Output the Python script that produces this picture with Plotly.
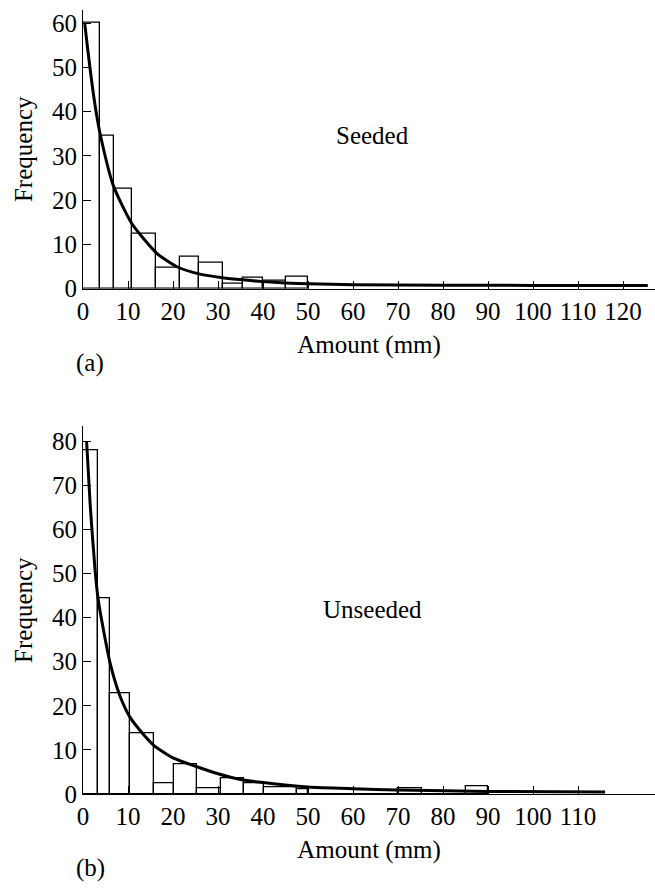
import plotly.graph_objects as go

# ---------------- data ----------------
# Panel (a): seeded clouds
seeded_edges = [0, 3.8, 6.8, 10.8, 16.3, 21.5, 25.8, 31.0, 35.5, 40.0, 45.0, 50.0]
seeded_counts = [60, 34.5, 22.5, 12.5, 4.7, 7.2, 5.9, 1.0, 2.4, 1.7, 2.6]
seeded_fit_x = [0.4, 1, 2, 3, 3.8, 6.7, 10.8, 16.4, 21, 26, 31, 35.5, 40, 45, 50, 60, 80, 100, 125.5]
seeded_fit_y = [59.8, 54.5, 46.3, 39.4, 35.0, 23.4, 14.8, 8.0, 4.9, 3.3, 2.5, 2.0, 1.6, 1.3, 1.1, 0.9, 0.8, 0.75, 0.7]

# Panel (b): unseeded clouds
unseeded_edges = [0, 3.4, 6.0, 10.4, 15.8, 20.3, 25.3, 30.6, 35.7, 40.2, 47.5, 50.0, 70.0, 75.4, 85.1, 90.0]
unseeded_counts = [78, 44.3, 22.9, 13.8, 2.5, 6.7, 1.4, 3.7, 2.4, 1.6, 1.0, 0, 1.3, 0, 1.7]
unseeded_fit_x = [0.8, 1.6, 2.7, 3.4, 6.0, 8.2, 10.4, 13.2, 15.8, 20, 25, 30, 35, 40, 50, 60, 70, 90, 116]
unseeded_fit_y = [80, 65.5, 50.6, 43.9, 29.8, 22.3, 17.5, 13.8, 11.0, 8.2, 6.3, 4.6, 3.3, 2.6, 1.6, 1.2, 0.9, 0.6, 0.45]

x_ticks_a = list(range(0, 121, 10))
x_ticks_b = list(range(0, 111, 10))
y_ticks_a = list(range(0, 61, 10))
y_ticks_b = list(range(0, 81, 10))

x_title = "Amount (mm)"
y_title = "Frequency"
label_a = "Seeded"
label_b = "Unseeded"
panel_a = "(a)"
panel_b = "(b)"

FONT = "Liberation Serif"


def bar_geom(edges):
    centers = [(edges[i] + edges[i + 1]) / 2 for i in range(len(edges) - 1)]
    widths = [edges[i + 1] - edges[i] for i in range(len(edges) - 1)]
    return centers, widths


fig = go.Figure()

ca, wa = bar_geom(seeded_edges)
fig.add_trace(go.Bar(x=ca, y=seeded_counts, width=wa, xaxis="x", yaxis="y",
                     marker=dict(color="rgba(0,0,0,0)", line=dict(color="black", width=1.3)),
                     showlegend=False, hoverinfo="skip"))
fig.add_trace(go.Scatter(x=seeded_fit_x, y=seeded_fit_y, xaxis="x", yaxis="y", mode="lines",
                         line=dict(color="black", width=3, shape="spline", smoothing=0.6),
                         showlegend=False, hoverinfo="skip"))

cb, wb = bar_geom(unseeded_edges)
fig.add_trace(go.Bar(x=cb, y=unseeded_counts, width=wb, xaxis="x2", yaxis="y2",
                     marker=dict(color="rgba(0,0,0,0)", line=dict(color="black", width=1.3)),
                     showlegend=False, hoverinfo="skip"))
fig.add_trace(go.Scatter(x=unseeded_fit_x, y=unseeded_fit_y, xaxis="x2", yaxis="y2", mode="lines",
                         line=dict(color="black", width=3, shape="spline", smoothing=0.6),
                         showlegend=False, hoverinfo="skip"))

common_axis = dict(showline=True, linecolor="black", linewidth=1.2, ticks="inside", ticklen=8,
                   tickwidth=1.2, tickcolor="black", showgrid=False, zeroline=False,
                   tickfont=dict(family=FONT, size=25, color="black"), fixedrange=True)

fig.update_layout(
    width=655, height=894,
    margin=dict(l=83, r=0, t=0, b=0),
    paper_bgcolor="white", plot_bgcolor="white",
    font=dict(family=FONT, size=25, color="black"),
    bargap=0,
    xaxis=dict(domain=[0, 1], range=[0, 127.1], anchor="y", tickvals=x_ticks_a,
               title=dict(text=x_title, font=dict(size=25), standoff=11), **common_axis),
    yaxis=dict(domain=[1 - 293.3 / 894, 1 - 10 / 894], range=[0, 63], anchor="x", tickvals=y_ticks_a,
               title=dict(text=y_title, font=dict(size=25), standoff=12), **common_axis),
    xaxis2=dict(domain=[0, 1], range=[0, 127.1], anchor="y2", tickvals=x_ticks_b,
                title=dict(text=x_title, font=dict(size=25), standoff=11), **common_axis),
    yaxis2=dict(domain=[1 - 806.7 / 894, 1 - 433 / 894], range=[0, 83.4], anchor="x2", tickvals=y_ticks_b,
                title=dict(text=y_title, font=dict(size=25), standoff=12), **common_axis),
    annotations=[
        dict(text=label_a, x=64.4, y=34.6, xref="x", yref="y", showarrow=False,
             font=dict(family=FONT, size=25, color="black")),
        dict(text=label_b, x=64.4, y=41.9, xref="x2", yref="y2", showarrow=False,
             font=dict(family=FONT, size=25, color="black")),
        dict(text=panel_a, x=-9 / 572, y=1 - 369 / 894, xref="paper", yref="paper", showarrow=False,
             xanchor="left", yanchor="middle", font=dict(family=FONT, size=25, color="black")),
        dict(text=panel_b, x=-9 / 572, y=1 - 882 / 894, xref="paper", yref="paper", showarrow=False,
             xanchor="left", yanchor="middle", font=dict(family=FONT, size=25, color="black")),
    ],
)

fig.write_html("out.html")
